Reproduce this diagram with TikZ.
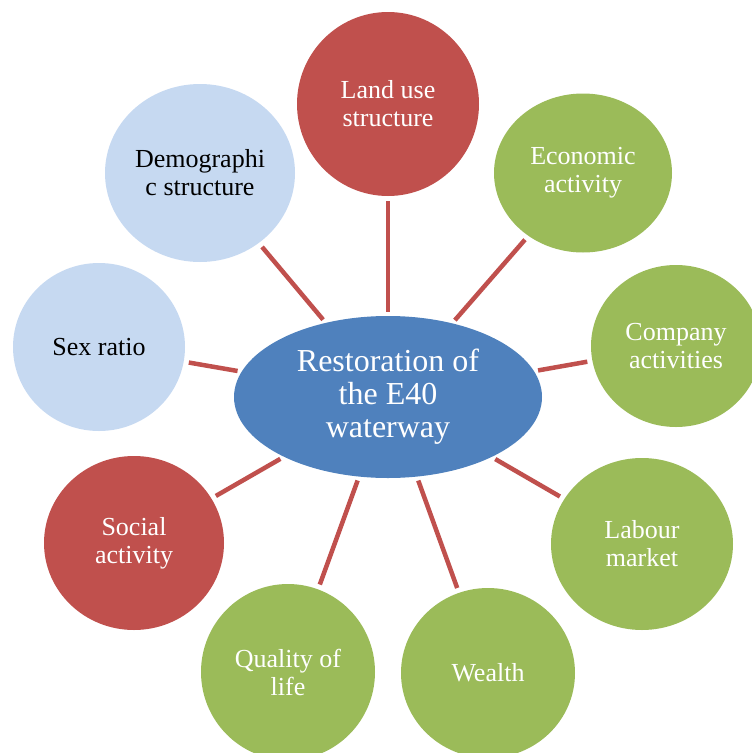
\documentclass[tikz,border=0pt]{standalone}
\usepackage{fontspec}
\setmainfont{Liberation Serif}
\usetikzlibrary{shapes.geometric}
\definecolor{cred}{HTML}{C0504D}
\definecolor{cgreen}{HTML}{9BBB59}
\definecolor{clblue}{HTML}{C6D9F1}
\definecolor{cblue}{HTML}{4F81BD}
\begin{document}
\begin{tikzpicture}[x=1pt,y=-1pt,
  bub/.style={ellipse,inner sep=0pt,align=center,font=\fontsize{26}{28}\selectfont,text=white},
  redbub/.style={bub,fill=cred},
  greenbub/.style={bub,fill=cgreen},
  bluebub/.style={bub,fill=clblue,text=black},
  hub/.style={ellipse,inner sep=0pt,align=center,fill=cblue,text=white,font=\fontsize{32}{33}\selectfont},
  link/.style={draw=cred,line width=4.5pt,shorten <=4pt,shorten >=5pt}]
\useasboundingbox (0,0) rectangle (752,753);
\clip (0,0) rectangle (752,753);
\node[hub,minimum width=308pt,minimum height=162pt] (c) at (388,397) {Restoration of\\the E40\\waterway};
\node[redbub,minimum width=182pt,minimum height=184pt] (land) at (388,104) {Land use\\structure};
\node[greenbub,minimum width=178pt,minimum height=159pt] (econ) at (583,173) {Economic\\activity};
\node[greenbub,minimum width=170pt,minimum height=162pt] (comp) at (676,346) {Company\\activities};
\node[greenbub,minimum width=182pt,minimum height=172pt] (lab) at (642,544) {Labour\\market};
\node[greenbub,minimum width=174pt,minimum height=170pt] (wealth) at (488,673) {Wealth};
\node[greenbub,minimum width=174pt,minimum height=176pt] (qual) at (288,672) {Quality of\\life};
\node[redbub,minimum width=180pt,minimum height=174pt] (soc) at (134,543) {Social\\activity};
\node[bluebub,minimum width=172pt,minimum height=168pt] (sex) at (99,347) {Sex ratio};
\node[bluebub,minimum width=190pt,minimum height=178pt] (demo) at (200,173) {Demographi\\c structure};
\foreach \n in {land,econ,comp,lab,wealth,qual,soc,sex,demo}
  \draw[link] (c) -- (\n);
\end{tikzpicture}
\end{document}
